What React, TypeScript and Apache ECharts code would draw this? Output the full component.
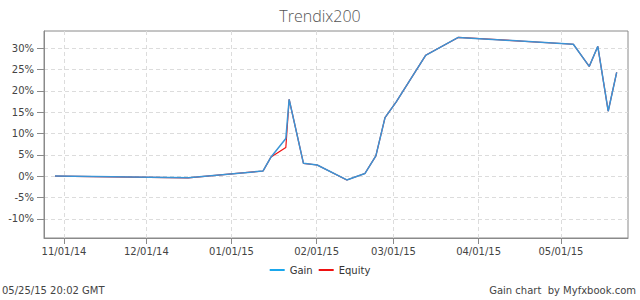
import React, { useEffect, useRef } from "react";
import * as echarts from "echarts";

const dates = [
  "2014-10-28T17:00Z", "2014-12-16T05:00Z", "2015-01-12T12:00Z", "2015-01-15T10:00Z",
  "2015-01-20T19:00Z", "2015-01-22T00:00Z", "2015-01-27T05:00Z", "2015-02-01T05:00Z",
  "2015-02-12T00:00Z", "2015-02-18T14:00Z", "2015-02-22T14:00Z", "2015-02-25T22:00Z",
  "2015-03-02T00:00Z", "2015-03-12T17:00Z", "2015-03-24T14:00Z", "2015-05-05T12:00Z",
  "2015-05-11T07:00Z", "2015-05-14T10:00Z", "2015-05-18T05:00Z", "2015-05-21T07:00Z",
];
const gain = [0, -0.4, 1.2, 4.5, 8.8, 18.0, 3.0, 2.6, -0.9, 0.6, 4.75, 13.7, 17.4, 28.3, 32.5, 30.9, 25.7, 30.4, 15.2, 24.3];
const equity = [0, -0.4, 1.2, 4.5, 6.7, 18.0, 3.0, 2.6, -0.9, 0.6, 4.75, 13.7, 17.4, 28.3, 32.5, 30.9, 25.7, 30.4, 15.2, 24.3];
const monthTicks = ["2014-11-01T00:00Z", "2014-12-01T00:00Z", "2015-01-01T00:00Z", "2015-02-01T00:00Z", "2015-03-01T00:00Z", "2015-04-01T00:00Z", "2015-05-01T00:00Z"];
const yTicks = [-10, -5, 0, 5, 10, 15, 20, 25, 30];
const xMin = "2014-10-24T17:00Z";
const xMax = "2015-05-25T10:00Z";
const title = "Trendix200";
const footerLeft = "05/25/15 20:02 GMT";
const footerRight = "Gain chart  by Myfxbook.com";

const ts = (s: string) => new Date(s).getTime();
const pad = (n: number) => (n < 10 ? "0" + n : "" + n);
const fmt = (v: number) => {
  const d = new Date(v);
  return pad(d.getUTCMonth() + 1) + "/" + pad(d.getUTCDate()) + "/" + pad(d.getUTCFullYear() % 100);
};

export default function App() {
  const ref = useRef<HTMLDivElement>(null);
  useEffect(() => {
    document.body.style.margin = "0";
    const chart = echarts.init(ref.current!, null, { renderer: "svg" });
    const font = "DejaVu Sans";
    chart.setOption({
      animation: false,
      backgroundColor: "#fff",
      title: {
        text: title,
        left: "center",
        top: 3,
        textStyle: { fontFamily: "Open Sans", fontWeight: 300, fontSize: 16, color: "#555" },
      },
      legend: {
        bottom: 20,
        left: "center",
        icon: "rect",
        itemWidth: 15,
        itemHeight: 2,
        itemGap: 6,
        textStyle: { fontFamily: font, fontSize: 10, color: "#333" },
        data: [
          { name: "Gain", itemStyle: { color: "#1aa7ec" } },
          { name: "Equity", itemStyle: { color: "#ee1111" } },
        ],
      },
      grid: {
        left: 44,
        right: 12,
        top: 31,
        bottom: 62,
        show: true,
        borderColor: "#8a8a8a",
        borderWidth: 1,
      },
      xAxis: {
        type: "value",
        min: ts(xMin),
        max: ts(xMax),
        axisLine: { show: true, onZero: false, lineStyle: { color: "#8a8a8a" } },
        axisTick: { show: true, length: 6, customValues: monthTicks.map(ts), lineStyle: { color: "#8a8a8a" } },
        axisLabel: {
          customValues: monthTicks.map(ts),
          formatter: (v: number) => fmt(v),
          fontFamily: font,
          fontSize: 10,
          color: "#444",
          margin: 8,
        },
        splitLine: { show: true, lineStyle: { color: "#dcdcdc", type: [4, 3] } },
      },
      yAxis: {
        type: "value",
        min: -14.5,
        max: 34,
        axisLine: { show: true, onZero: false, lineStyle: { color: "#8a8a8a" } },
        axisTick: { show: true, length: 7, customValues: yTicks, lineStyle: { color: "#8a8a8a" } },
        axisLabel: {
          customValues: yTicks,
          formatter: (v: number) => v + "%",
          fontFamily: font,
          fontSize: 10,
          color: "#444",
          margin: 10,
        },
        splitLine: { show: true, lineStyle: { color: "#dcdcdc", type: [4, 3] } },
      },
      series: [
        {
          name: "Equity",
          type: "line",
          data: dates.map((d, i) => [ts(d), equity[i]]),
          showSymbol: false,
          symbol: "none",
          lineStyle: { color: "#ee1111", width: 1.2 },
          itemStyle: { color: "#ee1111" },
          z: 2,
        },
        {
          name: "Gain",
          type: "line",
          data: dates.map((d, i) => [ts(d), gain[i]]),
          showSymbol: false,
          symbol: "none",
          lineStyle: { color: "#3a94d6", width: 1.5 },
          itemStyle: { color: "#1aa7ec" },
          z: 3,
        },
      ],
      graphic: [
        {
          type: "text",
          left: 2,
          top: 285,
          style: { text: footerLeft, fontFamily: font, fontSize: 10, fill: "#444" },
        },
        {
          type: "text",
          right: 4,
          top: 285,
          style: { text: footerRight, fontFamily: font, fontSize: 10, fill: "#444" },
        },
      ],
    });
    return () => chart.dispose();
  }, []);
  return <div ref={ref} style={{ width: 640, height: 300 }} />;
}
